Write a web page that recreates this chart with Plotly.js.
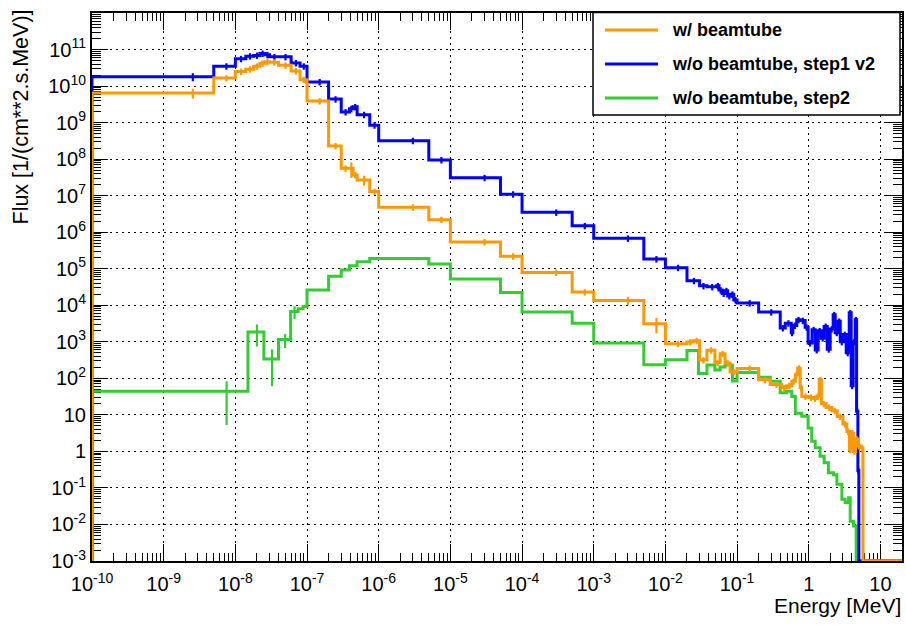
<!DOCTYPE html>
<html>
<head>
<meta charset="utf-8">
<script src="https://cdn.plot.ly/plotly-3.0.1.min.js"></script>
<style>
  html, body { margin: 0; padding: 0; background: #ffffff; }
  #chart { width: 906px; height: 625px; }
</style>
</head>
<body>
<div id="chart"></div>
<script>
// ---------------- DATA ----------------
const seriesNames = ["w/ beamtube", "w/o beamtube, step1 v2", "w/o beamtube, step2"];

// bin edges [MeV] and flux per bin [1/(cm**2.s.MeV)]; 0 = empty bin
const orangeEdges = [1e-10, 5e-9, 1e-8, 1.4e-8, 1.8e-8, 2.2e-8, 2.6e-8, 3e-8, 4e-8, 6e-8, 8e-8,
  1e-7, 2e-7, 3e-7, 3.9e-7, 4.4e-7, 5e-7, 7.5e-7, 1e-6, 5e-6, 1e-5, 5e-5, 1e-4, 5e-4, 1e-3, 5e-3,
  1e-2, 2e-2, 2.45e-2, 3e-2, 3.8e-2, 4.9e-2, 5.8e-2, 6.8e-2, 8e-2, 0.1, 0.2, 0.29, 0.42, 0.49,
  0.58, 0.65, 0.70, 0.76, 0.80, 1.0, 1.15, 1.3, 1.4, 1.5, 1.75, 2.1, 2.5, 3.0, 3.4, 3.7, 3.9,
  4.2, 4.5, 4.8, 5.3, 5.7, 20];
const orangeFlux = [6.5e9, 1.65e10, 2.5e10, 2.9e10, 3.5e10, 4.2e10, 4.6e10, 4.5e10, 3.7e10, 2.6e10,
  1.5e10, 3.9e9, 2.3e8, 5.6e7, 5.6e7, 3.7e7, 2.7e7, 1.3e7, 4.8e6, 2.2e6, 5.4e5, 2.2e5, 7.9e4,
  2.3e4, 1.35e4, 3.1e3, 890, 980, 1070, 316, 590, 270, 470, 263, 150, 186, 91, 68, 55, 63, 83,
  126, 190, 56, 32, 30, 28, 33, 91, 20, 16, 13, 9, 5.6, 3.5, 1.1, 3.2, 1.0, 2.2, 1.4, 1.26, 0];
const orangeErrDefault = 0.2;
const orangeErrIdx = [0, 14, 16, 24, 25];
const orangeErrRel = [0.3, 0.45, 0.3, 0.25, 0.45];

const blueEdges = [1e-10, 5e-9, 1e-8, 1.4e-8, 1.8e-8, 2.2e-8, 2.6e-8, 3e-8, 4e-8, 6e-8, 8e-8,
  1e-7, 2e-7, 3e-7, 3.9e-7, 4.4e-7, 5e-7, 7.5e-7, 1e-6, 5e-6, 1e-5, 5e-5, 1e-4, 5e-4, 1e-3, 5e-3,
  1e-2, 2e-2, 3e-2, 3.8e-2, 5.2e-2, 5.6e-2, 6.2e-2, 6.8e-2, 7.4e-2, 8.2e-2, 9e-2, 0.1, 0.2, 0.4,
  0.47, 0.57, 0.6, 0.68, 0.76, 0.89, 0.98, 1.11, 1.23, 1.35, 1.49, 1.64, 1.81, 1.99, 2.19, 2.34,
  2.58, 2.75, 3.03, 3.33, 3.67, 3.91, 4.17, 4.45, 4.65, 4.85, 5.0, 20];
const blueFlux = [1.8e10, 3.5e10, 5.6e10, 6.6e10, 6.9e10, 7.8e10, 7.2e10, 6.3e10, 6.3e10, 4.3e10,
  3.5e10, 1.3e10, 4.4e9, 1.95e9, 2.4e9, 2.7e9, 1.65e9, 8.5e8, 3.2e8, 9.5e7, 3.1e7, 1.1e7, 3.5e6,
  1.5e6, 6.8e5, 1.85e5, 1.07e5, 4.7e4, 3.4e4, 3.2e4, 3.4e4, 2.6e4, 2.1e4, 2.5e4, 1.8e4, 2.0e4,
  1.4e4, 1.15e4, 6.5e3, 2400, 3240, 1780, 2800, 4000, 3800, 2500, 930, 2140, 600, 2000, 1260,
  2630, 630, 2240, 5500, 1780, 3630, 1000, 1580, 500, 6200, 63, 1000, 4000, 12.6, 0.3, 0];
const blueErrDefault = 0.2;
const blueErrIdx = [0];
const blueErrRel = [0.25];

const greenEdges = [1e-10, 1.5e-8, 2.5e-8, 4e-8, 5.9e-8, 7.5e-8, 8.8e-8, 1e-7, 2e-7, 3e-7, 3.9e-7,
  5e-7, 7.5e-7, 1e-6, 5e-6, 1e-5, 5e-5, 1e-4, 5e-4, 1e-3, 5e-3, 1e-2, 2e-2, 2.9e-2, 3.8e-2,
  4.9e-2, 5.8e-2, 6.8e-2, 8.6e-2, 0.1, 0.2, 0.29, 0.4, 0.49, 0.58, 0.65, 0.80, 0.98, 1.1, 1.23,
  1.44, 1.64, 1.88, 2.21, 2.47, 2.9, 3.22, 3.59, 3.79, 4.21, 4.59, 20];
const greenFlux = [44, 1860, 340, 1150, 6800, 8000, 9300, 2.6e4, 6.2e4, 9.3e4, 1.2e5, 1.55e5,
  1.9e5, 1.9e5, 1.35e5, 5.2e4, 2.25e4, 6.5e3, 3.2e3, 930, 234, 324, 575, 135, 230, 170, 204,
  230, 85, 145, 107, 83, 40, 44, 32, 11, 9.1, 4.4, 1.9, 1.26, 0.74, 0.49, 0.26, 0.23, 0.126,
  0.049, 0.04, 0.054, 0.0123, 0.0091, 0];
const greenErrDefault = 0;
const greenErrIdx = [0, 1, 2, 3, 4];
const greenErrRel = [0.88, 0.6, 0.82, 0.41, 0.38];

const xTickVals = [1e-10, 1e-9, 1e-8, 1e-7, 1e-6, 1e-5, 1e-4, 1e-3, 1e-2, 1e-1, 1, 10];
const xTickText = ["10<sup>-10</sup>", "10<sup>-9</sup>", "10<sup>-8</sup>", "10<sup>-7</sup>",
  "10<sup>-6</sup>", "10<sup>-5</sup>", "10<sup>-4</sup>", "10<sup>-3</sup>", "10<sup>-2</sup>",
  "10<sup>-1</sup>", "1", "10"];
const yTickVals = [1e-3, 1e-2, 1e-1, 1, 10, 1e2, 1e3, 1e4, 1e5, 1e6, 1e7, 1e8, 1e9, 1e10, 1e11, 1e12];
const yTickText = ["10<sup>-3</sup>", "10<sup>-2</sup>", "10<sup>-1</sup>", "1", "10",
  "10<sup>2</sup>", "10<sup>3</sup>", "10<sup>4</sup>", "10<sup>5</sup>", "10<sup>6</sup>",
  "10<sup>7</sup>", "10<sup>8</sup>", "10<sup>9</sup>", "10<sup>10</sup>", "10<sup>11</sup>",
  "10<sup>12</sup>"];

const xTitle = "Energy [MeV]";
const yTitle = "Flux [1/(cm**2.s.MeV)]";

// ---------------- STYLE ----------------
const colors = ["#FF9900", "#0000FF", "#33CC33"];
const X_MIN = 1e-10, X_MAX = 20, Y_MIN = 1e-3, Y_MAX = 1e12;
const FONT = "'Liberation Sans', Arial, Helvetica, sans-serif";
const M = {l: 92, r: 4, t: 13, b: 64};
const W = 906, H = 625;
const PW = W - M.l - M.r, PH = H - M.t - M.b;
const px2x = p => (p - M.l) / PW;          // pixel -> paper x
const px2y = p => (H - M.b - p) / PH;      // pixel -> paper y

function stepTrace(edges, flux, color, name) {
  const xs = [edges[0]], ys = [Y_MIN];
  for (let i = 0; i < flux.length; i++) {
    xs.push(edges[i]);
    ys.push(flux[i] > 0 ? flux[i] : Y_MIN);
  }
  xs.push(edges[edges.length - 1]);
  ys.push(flux[flux.length - 1] > 0 ? flux[flux.length - 1] : Y_MIN);
  return {
    type: "scatter", mode: "lines", x: xs, y: ys, name: name,
    line: {color: color, width: 3, shape: "hv"}, hoverinfo: "skip", showlegend: false
  };
}

function errTrace(edges, flux, color, defRel, idx, rel) {
  const cx = [], cy = [], up = [], dn = [];
  for (let i = 0; i < flux.length; i++) {
    if (!(flux[i] > 0)) continue;
    let r = defRel;
    const k = idx.indexOf(i);
    if (k >= 0) r = rel[k];
    if (r <= 0) continue;
    cx.push((edges[i] + edges[i + 1]) / 2);
    cy.push(flux[i]);
    up.push(flux[i] * r);
    dn.push(flux[i] * Math.min(r, 0.999));
  }
  return {
    type: "scatter", mode: "markers", x: cx, y: cy,
    marker: {size: 1, color: color, opacity: 0},
    error_y: {type: "data", symmetric: false, array: up, arrayminus: dn,
              color: color, thickness: 2.2, width: 0},
    hoverinfo: "skip", showlegend: false
  };
}

const traces = [
  errTrace(greenEdges, greenFlux, colors[2], greenErrDefault, greenErrIdx, greenErrRel),
  stepTrace(greenEdges, greenFlux, colors[2], seriesNames[2]),
  errTrace(blueEdges, blueFlux, colors[1], blueErrDefault, blueErrIdx, blueErrRel),
  stepTrace(blueEdges, blueFlux, colors[1], seriesNames[1]),
  errTrace(orangeEdges, orangeFlux, colors[0], orangeErrDefault, orangeErrIdx, orangeErrRel),
  stepTrace(orangeEdges, orangeFlux, colors[0], seriesNames[0])
];

// minor tick positions 2..9 per decade
function minors(lo, hi) {
  const out = [];
  for (let e = Math.floor(Math.log10(lo)); e <= Math.ceil(Math.log10(hi)); e++) {
    for (let m = 2; m <= 9; m++) {
      const v = m * Math.pow(10, e);
      if (v > lo && v < hi) out.push(v);
    }
  }
  return out;
}

const axisCommon = {
  type: "log", tickmode: "array", ticks: "inside", tickcolor: "black", tickwidth: 1,
  mirror: "allticks", showline: true, linecolor: "black", linewidth: 2,
  showgrid: true, gridcolor: "#000000", gridwidth: 1, griddash: "2px,4px",
  zeroline: false, layer: "below traces", automargin: false,
  tickfont: {family: FONT, size: 20, color: "black"}
};

const xaxis = Object.assign({}, axisCommon, {
  range: [Math.log10(X_MIN), Math.log10(X_MAX)],
  tickvals: xTickVals, ticktext: xTickText, ticklen: 17, ticklabelstandoff: 4,
  minor: {tickmode: "array", tickvals: minors(X_MIN, X_MAX), ticks: "inside",
          ticklen: 8, tickcolor: "black", tickwidth: 1, showgrid: false}
});
const yaxis = Object.assign({}, axisCommon, {
  range: [Math.log10(Y_MIN), Math.log10(Y_MAX)],
  tickvals: yTickVals, ticktext: yTickText, ticklen: 16,
  minor: {tickmode: "array", tickvals: minors(Y_MIN, Y_MAX), ticks: "inside",
          ticklen: 9, tickcolor: "black", tickwidth: 1, showgrid: false}
});

// legend (ROOT style box)
const legX0 = 593, legX1 = 900, legY0 = 12.5, legY1 = 115;
const legRows = [30, 64, 98];
const shapes = [{
  type: "rect", xref: "paper", yref: "paper", layer: "above",
  x0: px2x(legX0), x1: px2x(legX1), y0: px2y(legY1), y1: px2y(legY0),
  line: {color: "black", width: 1.5}, fillcolor: "white"
}];
const annotations = [];
seriesNames.forEach((nm, i) => {
  shapes.push({
    type: "line", xref: "paper", yref: "paper", layer: "above",
    x0: px2x(605), x1: px2x(658), y0: px2y(legRows[i]), y1: px2y(legRows[i]),
    line: {color: colors[i], width: 3}
  });
  annotations.push({
    xref: "paper", yref: "paper", x: px2x(670), y: px2y(legRows[i]),
    xanchor: "left", yanchor: "middle", showarrow: false, text: nm,
    font: {family: FONT, size: 18, color: "black", weight: "bold"}
  });
});
annotations.push({
  xref: "paper", yref: "paper", x: px2x(903), y: px2y(592),
  xanchor: "right", yanchor: "top", showarrow: false, text: xTitle,
  font: {family: FONT, size: 21, color: "black"}
});
annotations.push({
  xref: "paper", yref: "paper", x: px2x(20), y: px2y(8),
  xanchor: "center", yanchor: "top", showarrow: false, text: yTitle, textangle: -90,
  font: {family: FONT, size: 21.5, color: "black"}
});

const layout = {
  width: W, height: H,
  margin: {l: M.l, r: M.r, t: M.t, b: M.b, pad: 0},
  paper_bgcolor: "white", plot_bgcolor: "white",
  showlegend: false, hovermode: false,
  font: {family: FONT, size: 20, color: "black"},
  xaxis: xaxis, yaxis: yaxis,
  shapes: shapes, annotations: annotations
};

Plotly.newPlot("chart", traces, layout, {displayModeBar: false, staticPlot: true});
</script>
</body>
</html>
